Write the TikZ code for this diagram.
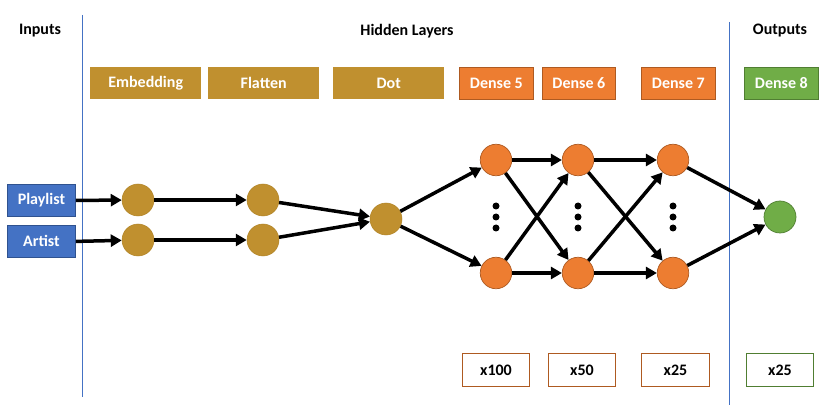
\documentclass[tikz,border=0pt]{standalone}
\usepackage{fontspec}
\setmainfont{Carlito}
\usetikzlibrary{arrows.meta}
\definecolor{gold}{HTML}{C0902F}
\definecolor{goldd}{HTML}{B08428}
\definecolor{orng}{HTML}{ED7D31}
\definecolor{orngd}{HTML}{AE5A21}
\definecolor{grn}{HTML}{70AD47}
\definecolor{grnd}{HTML}{507E32}
\definecolor{blu}{HTML}{4472C4}
\definecolor{blud}{HTML}{2F528F}
\tikzset{
  lbl/.style={font=\fontsize{16}{18}\selectfont\bfseries, inner sep=0pt},
  hdr/.style={lbl, text=black},
  tbox/.style={lbl, text=white, minimum height=32pt, anchor=north west},
  goldbox/.style={tbox, fill=gold},
  orbox/.style={tbox, fill=orng, draw=orngd, line width=0.8pt},
  grbox/.style={tbox, fill=grn, draw=grnd, line width=0.8pt},
  inbox/.style={tbox, fill=blu, draw=blud, line width=0.8pt},
  cntbox/.style={lbl, text=black, fill=white, minimum height=33pt, anchor=north west, line width=1pt},
  gc/.style={circle, fill=gold, draw=goldd, line width=0.5pt, minimum size=32pt, inner sep=0pt},
  oc/.style={circle, fill=orng, draw=orngd, line width=0.7pt, minimum size=31.5pt, inner sep=0pt},
  grc/.style={circle, fill=grn, draw=grnd, line width=0.7pt, minimum size=32pt, inner sep=0pt},
  dotc/.style={circle, fill=black, minimum size=7pt, inner sep=0pt},
  arr/.style={line width=3.5pt, -{Triangle[length=11pt,width=12pt]}},
  sep/.style={draw=blu, line width=0.8pt}
}
\begin{document}
\begin{tikzpicture}[x=1pt,y=-1pt]
\useasboundingbox (0,0) rectangle (825,414);
% separators
\coordinate (s1t) at (82,15); \coordinate (s1b) at (82,397);
\coordinate (s2t) at (729,22); \coordinate (s2b) at (729,405);
\draw[sep] (s1t) -- (s1b);
\draw[sep] (s2t) -- (s2b);
% headers
\node[hdr] (hin) at (40,31) {Inputs};
\node[hdr] (hhid) at (407,31) {Hidden Layers};
\node[hdr] (hout) at (780,31) {Outputs};
% top boxes
\node[goldbox, minimum width=111pt] (bemb) at (90,67) {Embedding};
\node[goldbox, minimum width=111pt] (bfla) at (208,67) {Flatten};
\node[goldbox, minimum width=111pt] (bdot) at (333,67) {Dot};
\node[orbox, minimum width=74pt] (bd5) at (459,67) {Dense 5};
\node[orbox, minimum width=73pt] (bd6) at (542,67) {Dense 6};
\node[orbox, minimum width=74pt] (bd7) at (641,67) {Dense 7};
\node[grbox, minimum width=74pt] (bd8) at (744,67) {Dense 8};
% bottom boxes
\node[cntbox, draw=orngd, minimum width=67pt] (c5) at (462,353) {x100};
\node[cntbox, draw=orngd, minimum width=67pt] (c6) at (548,353) {x50};
\node[cntbox, draw=orngd, minimum width=68pt] (c7) at (641,353) {x25};
\node[cntbox, draw=grnd, minimum width=67pt] (c8) at (746,353) {x25};
% inputs
\node[inbox, minimum width=68pt] (pl) at (7,184) {Playlist};
\node[inbox, minimum width=68pt] (ar) at (7,225) {Artist};
% circles
\node[gc] (e1) at (138,200) {};
\node[gc] (e2) at (138,240) {};
\node[gc] (f1) at (263,200) {};
\node[gc] (f2) at (263,240) {};
\node[gc] (dt) at (386,219) {};
\node[oc] (d5a) at (496,160) {};
\node[oc] (d5b) at (496,273) {};
\node[oc] (d6a) at (578,160) {};
\node[oc] (d6b) at (578,273) {};
\node[oc] (d7a) at (673,160) {};
\node[oc] (d7b) at (673,273) {};
\node[grc] (out) at (780,217) {};
% vertical dots
\foreach \xx/\nm in {496/p5,578/p6,673/p7}{
  \node[dotc] (\nm a) at (\xx,206) {};
  \node[dotc] (\nm b) at (\xx,217) {};
  \node[dotc] (\nm c) at (\xx,228) {};
}
% connectors
\draw[arr] (pl.east) -- (e1);
\draw[arr] (ar.east) -- (e2);
\draw[arr] (e1) -- (f1);
\draw[arr] (e2) -- (f2);
\draw[arr] (f1) -- (dt);
\draw[arr] (f2) -- (dt);
\draw[arr] (dt) -- (d5a);
\draw[arr] (dt) -- (d5b);
\draw[arr] (d5a) -- (d6a);
\draw[arr] (d5b) -- (d6b);
\draw[arr] (d5a) -- (d6b);
\draw[arr] (d5b) -- (d6a);
\draw[arr] (d6a) -- (d7a);
\draw[arr] (d6b) -- (d7b);
\draw[arr] (d6a) -- (d7b);
\draw[arr] (d6b) -- (d7a);
\draw[arr] (d7a) -- (out);
\draw[arr] (d7b) -- (out);
\end{tikzpicture}
\end{document}
